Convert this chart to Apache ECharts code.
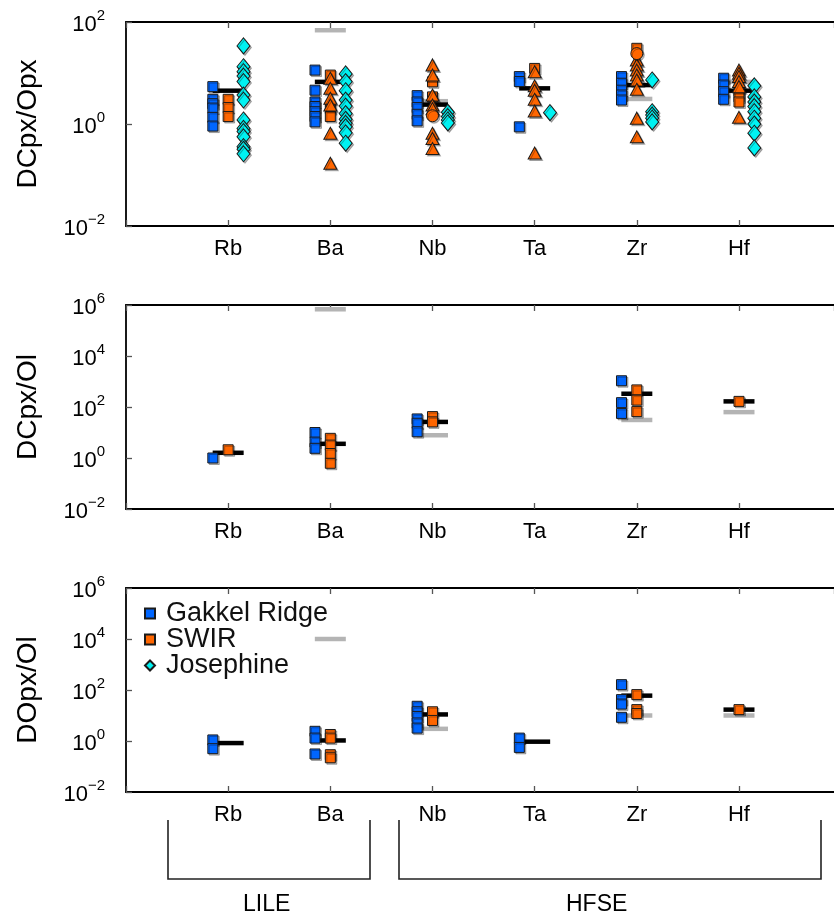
<!DOCTYPE html>
<html>
<head>
<meta charset="utf-8">
<script src="https://cdn.jsdelivr.net/npm/echarts@6/dist/echarts.min.js"></script>
<style>
  html, body { margin: 0; padding: 0; background: #fff; }
  #main { width: 834px; height: 919px; }
</style>
</head>
<body>
<div id="main"></div>
<script>
var elements = ['Rb', 'Ba', 'Nb', 'Ta', 'Zr', 'Hf'];

// pairs are [element index, partition coefficient]
// DCpx/Opx
var cpxOpxGakkel = [[0, 5.4], [0, 3.05], [0, 2.5], [0, 2.05], [0, 1.35], [0, 0.91],
    [1, 11.4], [1, 4.6], [1, 2.7], [1, 2.2], [1, 1.74], [1, 1.4], [1, 1.1],
    [2, 3.6], [2, 2.7], [2, 2.1], [2, 1.55], [2, 1.15],
    [3, 8.5], [3, 6.8], [3, 0.88],
    [4, 8.5], [4, 6.3], [4, 4.6], [4, 3.7], [4, 2.95],
    [5, 7.9], [5, 5.8], [5, 4.3], [5, 3.05]];
var cpxOpxSwirSquare = [[0, 3.05], [0, 2.1], [0, 1.4],
    [1, 9.1], [1, 2.0], [1, 1.4],
    [2, 6.7], [2, 3.4],
    [3, 12.3],
    [4, 30.5],
    [5, 4.3], [5, 3.4], [5, 2.7]];
var cpxOpxSwirTriangle = [[1, 7.9], [1, 5.0], [1, 3.2], [1, 2.36], [1, 0.66], [1, 0.17],
    [2, 14.4], [2, 9.1], [2, 3.7], [2, 2.36], [2, 2.0], [2, 0.66], [2, 0.52], [2, 0.33],
    [3, 10.6], [3, 5.6], [3, 4.6], [3, 3.05], [3, 1.8], [3, 0.27],
    [4, 18], [4, 14.4], [4, 11.4], [4, 9.1], [4, 7.3], [4, 4.8], [4, 1.3], [4, 0.56],
    [5, 11.4], [5, 9.9], [5, 8.5], [5, 6.8], [5, 5.4], [5, 1.35]];
var cpxOpxSwirCircle = [[2, 1.45], [4, 24]];
var cpxOpxJosephine = [[0, 34], [0, 13.3], [0, 10.6], [0, 8.7], [0, 6.8], [0, 3.7], [0, 2.95],
    [0, 1.2], [0, 0.82], [0, 0.71], [0, 0.56], [0, 0.36], [0, 0.32], [0, 0.26],
    [1, 9.6], [1, 6.8], [1, 4.5], [1, 2.95], [1, 2.25], [1, 1.6], [1, 1.24], [1, 1.03],
    [1, 0.88], [1, 0.67], [1, 0.42],
    [2, 1.7], [2, 1.4], [2, 1.2], [2, 1.05],
    [3, 1.67],
    [4, 7.3], [4, 1.74], [4, 1.5], [4, 1.3], [4, 1.1],
    [5, 5.6], [5, 3.4], [5, 2.7], [5, 2.2], [5, 1.74], [5, 1.3], [5, 1.0], [5, 0.66], [5, 0.34]];
var cpxOpxMean = [[0, 4.5], [1, 6.7], [2, 2.4], [3, 5.0], [4, 5.8], [5, 4.5]];
var cpxOpxExperiment = [[1, 69], [2, 2.8], [4, 3.1], [5, 6.7]];

// DCpx/Ol
var cpxOlGakkel = [[0, 1.0], [1, 10], [1, 4.2], [1, 2.4], [2, 34], [2, 23], [2, 10.7],
    [4, 1070], [4, 148], [4, 56]];
var cpxOlSwir = [[0, 2.1], [1, 5.9], [1, 3.2], [1, 1.5], [1, 0.62], [2, 42], [2, 26],
    [4, 468], [4, 186], [4, 66], [5, 166]];
var cpxOlMean = [[0, 1.6], [1, 3.6], [2, 26], [4, 331], [5, 166]];
var cpxOlExperiment = [[1, 680000], [2, 7.8], [4, 31], [5, 63]];

// DOpx/Ol
var opxOlGakkel = [[0, 1.1], [0, 0.5], [1, 2.4], [1, 1.3], [1, 0.31],
    [2, 23], [2, 14], [2, 9.2], [2, 5.1], [2, 3.2], [3, 1.3], [3, 0.56],
    [4, 162], [4, 42], [4, 28], [4, 8.5]];
var opxOlSwir = [[1, 1.8], [1, 1.3], [1, 0.29], [1, 0.22], [2, 14], [2, 6.4],
    [4, 66], [4, 17], [4, 12], [5, 17]];
var opxOlMean = [[0, 0.83], [1, 1.05], [2, 11], [3, 0.94], [4, 60], [5, 17]];
var opxOlExperiment = [[1, 10000], [2, 3.0], [4, 10], [5, 10]];

var yNames = ['DCpx/Opx', 'DCpx/Ol', 'DOpx/Ol'];
var yMaxExp = [2, 6, 6];

var FONT = 'Liberation Sans, Arial, sans-serif';
var BLUE = '#0066ff', ORANGE = '#ff6600', CYAN = '#00f2f2';

var chart = echarts.init(document.getElementById('main'));

// log10 on y, element position on x with a small side offset
function pts(list, offset) {
    return list.map(function (p) {
        return [p[0] + 1 + offset, Math.log10(p[1])];
    });
}

var shadow = { shadowColor: 'rgba(0,0,0,0.28)', shadowOffsetX: 1.5, shadowOffsetY: 1.5 };

function markers(name, idx, list, offset, symbol, size, color) {
    return {
        name: name, type: 'scatter', xAxisIndex: idx * 2, yAxisIndex: idx,
        symbol: symbol, symbolSize: size, data: pts(list, offset),
        itemStyle: Object.assign({ color: color, borderColor: '#1a1a1a', borderWidth: 1, opacity: 1 }, shadow),
        emphasis: { disabled: true }, z: 4
    };
}

function bars(name, idx, list, color, z) {
    return {
        name: name, type: 'scatter', xAxisIndex: idx * 2, yAxisIndex: idx,
        symbol: 'rect', symbolSize: [31, 4.5], data: pts(list, 0),
        itemStyle: { color: color, opacity: 1 },
        emphasis: { disabled: true }, z: z
    };
}

var grids = [], xAxes = [], yAxes = [];
var tops = [22, 305, 588];
var frame = { show: true, onZero: false, lineStyle: { color: '#000', width: 1.8 } };
for (var i = 0; i < 3; i++) {
    // box runs off the right edge of the page, so no right border
    grids.push({ left: 126, top: tops[i], width: 708, height: 204 });
    var tickStyle = { show: true, inside: true, length: 6, lineStyle: { color: '#555', width: 1.3 } };
    xAxes.push({
        type: 'value', gridIndex: i, min: 0, max: 6.93, interval: 1,
        axisLine: frame, splitLine: { show: false }, axisTick: tickStyle,
        axisLabel: {
            margin: 12, fontSize: 22, color: '#000', fontFamily: FONT,
            showMaxLabel: false,
            formatter: function (v) { return elements[v - 1] || ''; }
        }
    });
    xAxes.push({
        type: 'value', gridIndex: i, position: 'top', min: 0, max: 6.93, interval: 1,
        axisLine: frame, splitLine: { show: false }, axisTick: tickStyle,
        axisLabel: { show: false }
    });
    yAxes.push({
        type: 'value', gridIndex: i, min: -2, max: yMaxExp[i], interval: 2,
        name: yNames[i], nameLocation: 'middle', nameGap: 84,
        nameTextStyle: { fontSize: 28, color: '#000', fontFamily: FONT },
        axisLine: frame, splitLine: { show: false }, axisTick: tickStyle,
        axisLabel: {
            margin: 21, color: '#000', fontFamily: FONT,
            formatter: function (v) {
                var e = v < 0 ? '\u2212' + (-v) : '' + v;
                return '{b|10}{s|' + e + '}';
            },
            rich: {
                b: { fontSize: 22, fontFamily: FONT, color: '#000', padding: [6, 0, 0, 0] },
                s: { fontSize: 15, fontFamily: FONT, color: '#000', verticalAlign: 'top' }
            }
        }
    });
}

var series = [
    bars('exp1', 0, cpxOpxExperiment, '#b4b4b4', 2),
    bars('mean1', 0, cpxOpxMean, '#000', 3),
    markers('Gakkel Ridge', 0, cpxOpxGakkel, -0.15, 'rect', 10, BLUE),
    markers('SWIR', 0, cpxOpxSwirSquare, 0, 'rect', 10, ORANGE),
    markers('SWIR', 0, cpxOpxSwirTriangle, 0, 'triangle', [13, 12], ORANGE),
    markers('SWIR', 0, cpxOpxSwirCircle, 0, 'circle', 12, ORANGE),
    markers('Josephine', 0, cpxOpxJosephine, 0.15, 'diamond', [13, 16], CYAN),

    bars('exp2', 1, cpxOlExperiment, '#b4b4b4', 2),
    bars('mean2', 1, cpxOlMean, '#000', 3),
    markers('Gakkel Ridge', 1, cpxOlGakkel, -0.15, 'rect', 10, BLUE),
    markers('SWIR', 1, cpxOlSwir, 0, 'rect', 10, ORANGE),

    bars('exp3', 2, opxOlExperiment, '#b4b4b4', 2),
    bars('mean3', 2, opxOlMean, '#000', 3),
    markers('Gakkel Ridge', 2, opxOlGakkel, -0.15, 'rect', 10, BLUE),
    markers('SWIR', 2, opxOlSwir, 0, 'rect', 10, ORANGE)
];

var bracketStyle = { stroke: '#222', lineWidth: 1.6, fill: null };

var option = {
    backgroundColor: '#fff',
    animation: false,
    grid: grids,
    xAxis: xAxes,
    yAxis: yAxes,
    legend: {
        orient: 'vertical', left: 139, top: 595, selectedMode: false,
        itemWidth: 10, itemHeight: 10, itemGap: -1,
        itemStyle: { shadowColor: 'rgba(0,0,0,0)' },
        textStyle: { fontSize: 27, color: '#111', fontFamily: FONT, padding: [0, 0, 0, 6] },
        data: [
            { name: 'Gakkel Ridge', icon: 'rect' },
            { name: 'SWIR', icon: 'rect' },
            { name: 'Josephine', icon: 'diamond' }
        ]
    },
    graphic: [
        { type: 'polyline', shape: { points: [[168, 820], [168, 879], [370, 879], [370, 820]] }, style: bracketStyle },
        { type: 'polyline', shape: { points: [[399, 820], [399, 879], [821, 879], [821, 820]] }, style: bracketStyle },
        { type: 'text', left: 243, top: 893, style: { text: 'LILE', fontSize: 23, fill: '#000', fontFamily: FONT } },
        { type: 'text', left: 566, top: 893, style: { text: 'HFSE', fontSize: 23, fill: '#000', fontFamily: FONT } }
    ],
    series: series
};

chart.setOption(option);
</script>
</body>
</html>
